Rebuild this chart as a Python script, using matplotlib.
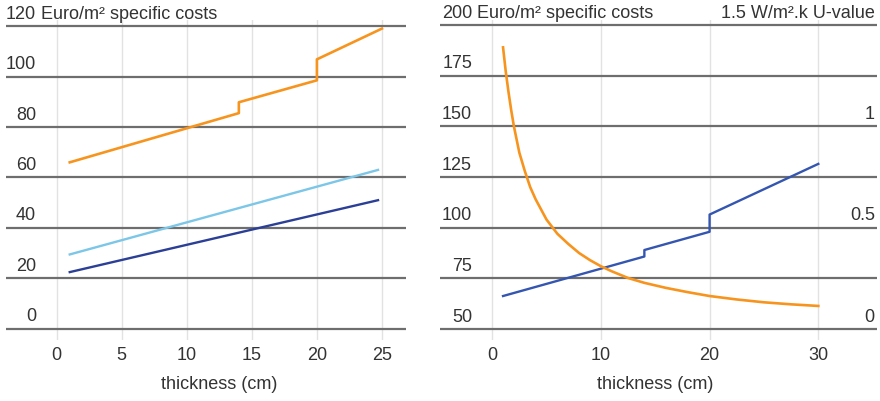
import matplotlib
matplotlib.use("Agg")
import matplotlib.pyplot as plt
import matplotlib.transforms as mtransforms

plt.rcParams["font.family"] = ["Liberation Sans", "DejaVu Sans"]

# left panel: specific costs vs thickness
left_y_ticks = [0, 20, 40, 60, 80, 100, 120]
left_x_ticks = [0, 5, 10, 15, 20, 25]
left_orange_x = [1, 14, 14, 20, 20, 25]
left_orange_y = [66, 85.5, 89.8, 98.5, 106.8, 119]
left_light_x = [1, 24.7]
left_light_y = [29.5, 63]
left_dark_x = [1, 24.7]
left_dark_y = [22.5, 51]

# right panel: costs (left scale) and U-value (right scale)
right_y_ticks = [50, 75, 100, 125, 150, 175, 200]
right_u_ticks = [0, 0.5, 1, 1.5]
right_x_ticks = [0, 10, 20, 30]
right_blue_x = [1, 14, 14, 20, 20, 30]
right_blue_y = [66.3, 85.8, 89, 98, 106.5, 131.5]
u_x = [1, 1.25, 1.5, 1.75, 2, 2.5, 3, 3.5, 4, 5, 6, 7, 8, 9, 10, 11, 12.5,
       14, 16, 18, 20, 22.5, 25, 27.5, 30]
u_y = [1.39, 1.27, 1.17, 1.08, 1.0, 0.87, 0.78, 0.70, 0.64, 0.54, 0.47, 0.42,
       0.375, 0.34, 0.31, 0.285, 0.252, 0.228, 0.203, 0.182, 0.163, 0.146,
       0.132, 0.122, 0.114]

ORANGE = "#F7941E"
LIGHT = "#7CC6E8"
DARK = "#2B3F96"
BLUE = "#3456B0"
LINE = "#6E6E6E"
TXT = "#333333"
FS = 13

W, H = 880, 401
fig = plt.figure(figsize=(W / 100, H / 100), dpi=100)


def px_axes(x0, x1, y0, y1):
    return fig.add_axes([x0 / W, 1 - y1 / H, (x1 - x0) / W, (y1 - y0) / H])


def style(ax, xticks, yticks, xlim, ylim, label_x, unit_text):
    ax.set_xlim(*xlim)
    ax.set_ylim(*ylim)
    for s in ax.spines.values():
        s.set_visible(False)
    ax.set_yticks([])
    ax.set_xticks(xticks)
    ax.tick_params(axis="x", length=0, pad=5, labelsize=FS, labelcolor=TXT)
    ax.grid(axis="x", color="#E2E2E2", linewidth=1)
    ax.set_axisbelow(True)
    for v in yticks:
        ax.axhline(v, color=LINE, linewidth=1.6, zorder=1)
    tr = mtransforms.blended_transform_factory(ax.transAxes, ax.transData)
    off = mtransforms.offset_copy(tr, fig=fig, x=0, y=2.5, units="points")
    for v in yticks:
        ax.text(label_x, v, str(v), transform=off, ha="right", va="bottom",
                fontsize=FS, color=TXT)
    ax.text(label_x, yticks[-1], " " + unit_text, transform=off, ha="left",
            va="bottom", fontsize=FS, color=TXT)
    trx = mtransforms.blended_transform_factory(ax.transData, ax.transAxes)
    mid = (xticks[0] + xticks[-1]) / 2
    ax.text(mid, -0.14, "thickness (cm)", transform=trx, ha="center",
            va="center", fontsize=FS, color=TXT)


# left chart
ax1 = px_axes(6, 406, 20, 340)
style(ax1, left_x_ticks, left_y_ticks, (-3.9, 26.85), (-4.4, 122.4),
      30 / 400, "Euro/m² specific costs")
ax1.plot(left_orange_x, left_orange_y, color=ORANGE, linewidth=1.9, zorder=3)
ax1.plot(left_light_x, left_light_y, color=LIGHT, linewidth=1.7, zorder=3)
ax1.plot(left_dark_x, left_dark_y, color=DARK, linewidth=1.7, zorder=3)

# right chart
ax2 = px_axes(440, 877, 20, 340)
style(ax2, right_x_ticks, right_y_ticks, (-4.8, 35.4), (44.6, 202.5),
      32 / 437, "Euro/m² specific costs")
ax2.plot(right_blue_x, right_blue_y, color=BLUE, linewidth=1.7, zorder=3)

# U-value on a second scale: 0..1.5 lines up with 50..200
ax3 = ax2.twinx()
ax3.set_ylim((44.6 - 50) / 100, (202.5 - 50) / 100)
ax3.set_yticks([])
for s in ax3.spines.values():
    s.set_visible(False)
ax3.plot(u_x, u_y, color=ORANGE, linewidth=1.9, zorder=3)
tr3 = mtransforms.offset_copy(
    mtransforms.blended_transform_factory(ax3.transAxes, ax3.transData),
    fig=fig, x=0, y=2.5, units="points")
for v in right_u_ticks:
    lab = f"{v:g}"
    if v == right_u_ticks[-1]:
        lab += " W/m².k U-value"
    ax3.text(0.995, v, lab, transform=tr3, ha="right", va="bottom",
             fontsize=FS, color=TXT)

fig.savefig("out.png", dpi=100)
